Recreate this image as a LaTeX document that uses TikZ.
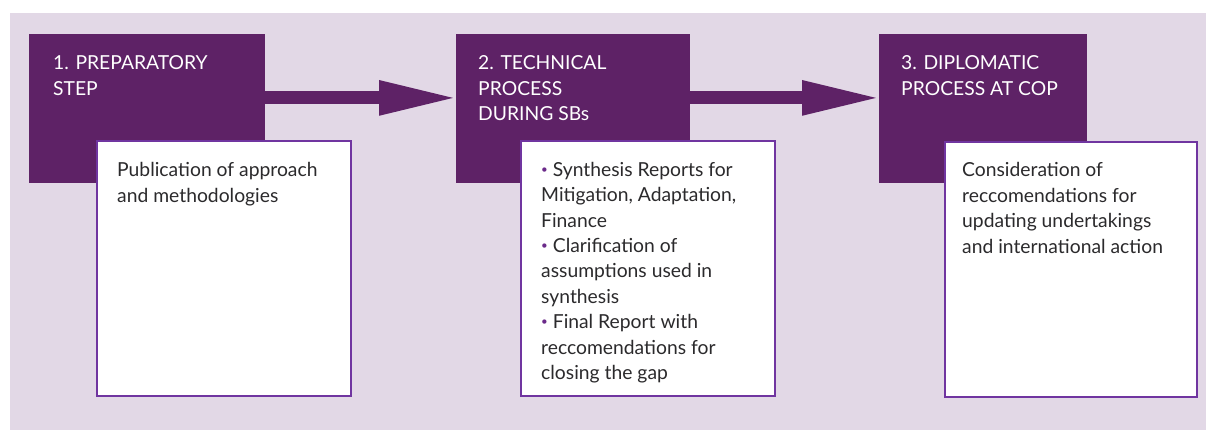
\documentclass[tikz,border=0pt]{standalone}
\usepackage{fontspec}
\setmainfont{Lato}
\usetikzlibrary{arrows.meta}
\definecolor{bgc}{HTML}{E2D8E6}
\definecolor{dpurple}{HTML}{5E2266}
\definecolor{bpurple}{HTML}{7035A0}
\definecolor{txtc}{HTML}{2B2A2C}
\definecolor{bulc}{HTML}{6B2A8A}
\newcommand{\bul}{{\color{bulc}\raisebox{0.3ex}{\scalebox{0.6}{\textbullet}}}\ }
\begin{document}
\begin{tikzpicture}[x=1pt,y=-1pt,
  pbox/.style={fill=dpurple, draw=none, anchor=north west, inner sep=0pt},
  wbox/.style={fill=white, draw=bpurple, line width=2pt, anchor=north west, inner sep=0pt},
  ptext/.style={text=white, font=\fontsize{19.3}{25.5}\selectfont, align=left, inner sep=0pt, anchor=base west},
  wtext/.style={text=txtc, font=\fontsize{19.3}{25.4}\selectfont, align=left, inner sep=0pt, anchor=base west},
  bigarrow/.style={draw=dpurple, line width=13pt, -{Triangle[length=80pt,width=31.5pt]}, shorten >=-3pt}
]
\useasboundingbox (0,0) rectangle (1206,430);
\fill[bgc] (10,13) rectangle (1206,430);
% purple step boxes
\node[pbox, minimum width=236.5pt, minimum height=149pt] (p1) at (28.5,34) {};
\node[pbox, minimum width=234pt, minimum height=149pt] (p2) at (456,34) {};
\node[pbox, minimum width=208pt, minimum height=149pt] (p3) at (879,34) {};
% arrows
\draw[bigarrow] ([yshift=10.8pt]p1.east) -- ([yshift=10.8pt]p2.west);
\draw[bigarrow] ([yshift=10.8pt]p2.east) -- ([yshift=10.8pt]p3.west);
% white boxes
\node[wbox, minimum width=254pt, minimum height=254pt] (w1) at (95.5,140.5) {};
\node[wbox, minimum width=254pt, minimum height=254pt] (w2) at (519.5,140.5) {};
\node[wbox, minimum width=252pt, minimum height=254pt] (w3) at (943.5,141.5) {};
% step titles (anchor = baseline of last line)
\node[ptext] (t1) at (53,95.5) {1. PREPARATORY\\STEP};
\node[ptext] (t2) at (478,121) {2. TECHNICAL\\PROCESS\\DURING SBs};
\node[ptext] (t3) at (901,95.5) {3. DIPLOMATIC\\PROCESS AT COP};
% box texts
\node[wtext] (d1) at (117,202.4) {Publication of approach\\and methodologies};
\node[wtext] (d2) at (541,379.5) {\bul Synthesis Reports for\\Mitigation, Adaptation,\\Finance\\\bul Clarification of\\assumptions used in\\synthesis\\\bul Final Report with\\reccomendations for\\closing the gap};
\node[wtext] (d3) at (962,253.2) {Consideration of\\reccomendations for\\updating undertakings\\and international action};
\end{tikzpicture}
\end{document}
